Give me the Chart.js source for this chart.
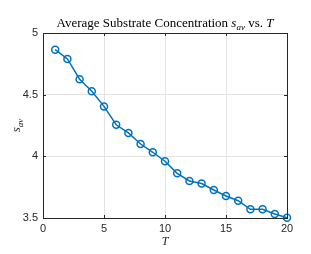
<!DOCTYPE html>
<html>
<head>
<meta charset="utf-8">
<script src="https://cdn.jsdelivr.net/npm/chart.js@4.4.0/dist/chart.umd.min.js"></script>
<style>
html,body{margin:0;padding:0;background:#fff;}
#wrap{width:311px;height:254px;position:relative;}
</style>
</head>
<body>
<div id="wrap"><canvas id="c" width="311" height="254"></canvas></div>
<script>
const T = [1,2,3,4,5,6,7,8,9,10,11,12,13,14,15,16,17,18,19,20];
const sAv = [4.865,4.79,4.625,4.527,4.405,4.256,4.19,4.10,4.033,3.96,3.862,3.80,3.78,3.727,3.678,3.64,3.57,3.57,3.532,3.502];
const xTicks = [0,5,10,15,20];
const yTicks = [3.5,4,4.5,5];
const titleMain = 'Average Substrate Concentration ';
const titleVar = 's';
const titleSub = 'av';
const titleEnd = ' vs. ';
const titleT = 'T';
const xLabel = 'T';
const yLabelVar = 's';
const yLabelSub = 'av';

const axisColor = '#262626';
const lineColor = '#0072BD';

const decorPlugin = {
  id: 'decor',
  afterDraw(chart) {
    const ctx = chart.ctx;
    const a = chart.chartArea;
    const xs = chart.scales.x, ys = chart.scales.y;
    ctx.save();
    // box
    ctx.strokeStyle = axisColor;
    ctx.lineWidth = 1;
    ctx.strokeRect(Math.round(a.left)+0.5, Math.round(a.top)+0.5, Math.round(a.right-a.left), Math.round(a.bottom-a.top));
    // inward ticks
    const tl = 3;
    ctx.beginPath();
    xs.ticks.forEach(t => {
      const px = Math.round(xs.getPixelForValue(t.value)) + 0.5;
      ctx.moveTo(px, a.bottom); ctx.lineTo(px, a.bottom - tl);
      ctx.moveTo(px, a.top); ctx.lineTo(px, a.top + tl);
    });
    ys.ticks.forEach(t => {
      const py = Math.round(ys.getPixelForValue(t.value)) + 0.5;
      ctx.moveTo(a.left, py); ctx.lineTo(a.left + tl, py);
      ctx.moveTo(a.right, py); ctx.lineTo(a.right - tl, py);
    });
    ctx.stroke();

    // title
    ctx.fillStyle = '#000';
    ctx.textBaseline = 'alphabetic';
    const fMain = '13px "Liberation Serif", serif';
    const fIt = 'italic 13px "Liberation Serif", serif';
    const fSub = 'italic 9px "Liberation Serif", serif';
    const parts = [
      [titleMain, fMain, 0],
      [titleVar, fIt, 0],
      [titleSub, fSub, 3],
      [titleEnd, fMain, 0],
      [titleT, fIt, 0]
    ];
    let total = 0;
    parts.forEach(p => { ctx.font = p[1]; total += ctx.measureText(p[0]).width; });
    let x = (a.left + a.right) / 2 - total / 2;
    const by = 27;
    ctx.textAlign = 'left';
    parts.forEach(p => { ctx.font = p[1]; ctx.fillText(p[0], x, by + p[2]); x += ctx.measureText(p[0]).width; });

    // x label
    ctx.fillStyle = axisColor;
    ctx.font = 'italic 12px "Liberation Serif", serif';
    ctx.textAlign = 'center';
    ctx.fillText(xLabel, (a.left + a.right) / 2, 245);

    // y label rotated
    ctx.save();
    ctx.translate(20, (a.top + a.bottom) / 2);
    ctx.rotate(-Math.PI / 2);
    ctx.font = 'italic 13px "Liberation Serif", serif';
    const w1 = ctx.measureText(yLabelVar).width;
    ctx.font = 'italic 9px "Liberation Serif", serif';
    const w2 = ctx.measureText(yLabelSub).width;
    let sx = -(w1 + w2) / 2;
    ctx.textAlign = 'left';
    ctx.font = 'italic 13px "Liberation Serif", serif';
    ctx.fillText(yLabelVar, sx, 0);
    ctx.font = 'italic 9px "Liberation Serif", serif';
    ctx.fillText(yLabelSub, sx + w1, 3);
    ctx.restore();

    ctx.restore();
  }
};

new Chart(document.getElementById('c'), {
  type: 'line',
  data: {
    datasets: [{
      data: T.map((t, i) => ({x: t, y: sAv[i]})),
      borderColor: lineColor,
      backgroundColor: 'rgba(0,0,0,0)',
      borderWidth: 1.5,
      pointRadius: 3.5,
      pointBorderWidth: 1.5,
      pointBackgroundColor: 'rgba(0,0,0,0)',
      pointBorderColor: lineColor,
      tension: 0,
      clip: false
    }]
  },
  options: {
    responsive: false,
    animation: false,
    devicePixelRatio: 1,
    layout: {padding: {top: 33, right: 24, left: 0, bottom: 0}},
    plugins: {legend: {display: false}, title: {display: false}, tooltip: {enabled: false}},
    scales: {
      x: {
        type: 'linear', min: 0, max: 20,
        afterFit(s) { s.height = 36; },
        afterBuildTicks(s) { s.ticks = xTicks.map(v => ({value: v})); },
        grid: {color: '#e3e3e3', drawTicks: false, lineWidth: 1},
        border: {display: false},
        ticks: {color: axisColor, font: {family: '"Liberation Sans", Arial, sans-serif', size: 11}, padding: 4, maxRotation: 0}
      },
      y: {
        type: 'linear', min: 3.5, max: 5,
        afterFit(s) { s.width = 43; },
        afterBuildTicks(s) { s.ticks = yTicks.map(v => ({value: v})); },
        grid: {color: '#e3e3e3', drawTicks: false, lineWidth: 1},
        border: {display: false},
        ticks: {color: axisColor, font: {family: '"Liberation Sans", Arial, sans-serif', size: 11}, padding: 5,
          callback: v => String(v)}
      }
    }
  },
  plugins: [decorPlugin]
});
</script>
</body>
</html>
